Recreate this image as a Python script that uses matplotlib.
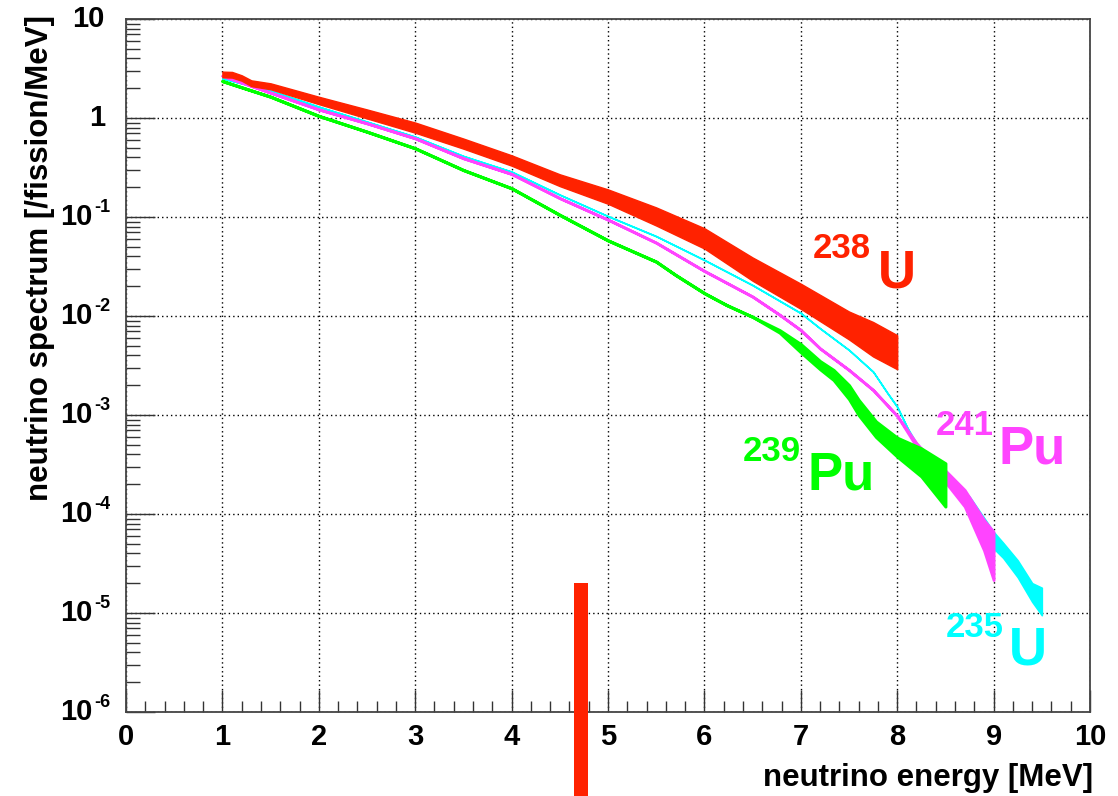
import matplotlib
matplotlib.use("Agg")
import matplotlib.pyplot as plt
import matplotlib.transforms as mtransforms
from matplotlib.ticker import FixedLocator, MultipleLocator, NullFormatter

# ---- data: reactor antineutrino spectra per fission (upper / lower edge of each band) ----
e_u238 = [1.0, 1.1, 1.2, 1.3, 1.5, 2.0, 2.5, 3.0, 3.5, 4.0, 4.5, 5.0, 5.5, 6.0, 6.5, 7.0, 7.5, 7.75, 8.0]
hi_u238 = [2.94, 2.92, 2.70, 2.40, 2.24, 1.64, 1.22, 0.90, 0.62, 0.42, 0.27, 0.19, 0.125, 0.077, 0.039, 0.0212, 0.0111, 0.0087, 0.0064]
lo_u238 = [2.58, 2.56, 2.38, 2.10, 1.95, 1.38, 0.99, 0.71, 0.49, 0.33, 0.205, 0.136, 0.082, 0.048, 0.0227, 0.0118, 0.0058, 0.0039, 0.0029]

e_u235 = [1.0, 1.5, 2.0, 2.5, 3.0, 3.5, 4.0, 4.5, 5.0, 5.5, 6.0, 6.5, 7.0, 7.2, 7.5, 7.75, 7.9, 8.0, 8.1, 8.2,
          8.35, 8.5, 8.75, 9.0, 9.1, 9.25, 9.4, 9.5]
hi_u235 = [2.51, 1.89, 1.30, 0.918, 0.647, 0.413, 0.287, 0.168, 0.102, 0.064, 0.0368, 0.0205, 0.0107, 0.0075, 0.00454,
           0.00274, 0.00166, 0.00121, 0.00076, 5.2e-4, 3.6e-4, 2.6e-4, 1.5e-4, 6.6e-5, 5.1e-5, 3.4e-5, 2.0e-5, 1.8e-5]
lo_u235 = [2.51, 1.89, 1.30, 0.918, 0.647, 0.413, 0.287, 0.168, 0.102, 0.064, 0.0368, 0.0205, 0.0107, 0.0075, 0.00454,
           0.00274, 0.00166, 0.00121, 0.00076, 4.6e-4, 3.1e-4, 2.1e-4, 1.1e-4, 4.5e-5, 3.6e-5, 2.3e-5, 1.3e-5, 9.5e-6]

e_pu241 = [1.0, 1.5, 2.0, 2.5, 3.0, 3.5, 4.0, 4.5, 5.0, 5.5, 6.0, 6.5, 6.78, 7.0, 7.2, 7.5, 7.75, 8.0, 8.2,
           8.35, 8.5, 8.7, 8.9, 9.0]
hi_pu241 = [2.67, 1.80, 1.22, 0.883, 0.623, 0.392, 0.272, 0.155, 0.094, 0.055, 0.0285, 0.0157, 0.0103, 0.0072, 0.0047,
            0.00285, 0.00179, 0.00098, 5.2e-4, 3.6e-4, 2.75e-4, 1.75e-4, 8.7e-5, 6.6e-5]
lo_pu241 = [2.67, 1.80, 1.22, 0.883, 0.623, 0.392, 0.272, 0.155, 0.094, 0.055, 0.0285, 0.0157, 0.0103, 0.0072, 0.0047,
            0.00285, 0.00179, 0.00098, 4.8e-4, 3.1e-4, 2.1e-4, 1.19e-4, 4.3e-5, 2.15e-5]

e_pu239 = [1.0, 1.5, 2.0, 2.5, 3.0, 3.5, 4.0, 4.5, 5.0, 5.5, 5.7, 6.0, 6.23, 6.5, 6.78, 7.0, 7.2, 7.34, 7.5, 7.6,
           7.78, 8.0, 8.25, 8.5]
hi_pu239 = [2.36, 1.64, 1.05, 0.727, 0.494, 0.298, 0.195, 0.105, 0.058, 0.0354, 0.026, 0.017, 0.0129, 0.0098, 0.0072,
            0.0052, 0.0035, 0.00285, 0.0020, 0.00142, 8.6e-4, 5.9e-4, 4.6e-4, 3.25e-4]
lo_pu239 = [2.36, 1.64, 1.05, 0.727, 0.494, 0.298, 0.195, 0.105, 0.058, 0.0354, 0.026, 0.017, 0.0129, 0.0098, 0.0068,
            0.0043, 0.0029, 0.00226, 0.00145, 0.0010, 6.0e-4, 3.8e-4, 2.4e-4, 1.19e-4]

# threshold marker
marker_energy = 4.72
marker_top = 2e-5

x_ticks = [0, 1, 2, 3, 4, 5, 6, 7, 8, 9, 10]
y_ticks = [1e-6, 1e-5, 1e-4, 1e-3, 1e-2, 1e-1, 1, 10]
y_tick_bases = ['10', '10', '10', '10', '10', '10', '1', '10']
y_tick_exps = ['-6', '-5', '-4', '-3', '-2', '-1', '', '']

RED = '#ff2200'
CYAN = '#00ffff'
MAGENTA = '#ff44ff'
GREEN = '#00ff00'

plt.rcParams['font.family'] = ['Liberation Sans', 'DejaVu Sans']
plt.rcParams['font.weight'] = 'bold'

fig = plt.figure(figsize=(11.18, 7.96), dpi=100)
ax = fig.add_axes([126 / 1118, 1 - 712 / 796, 964 / 1118, 693 / 796])

ax.set_yscale('log')
ax.set_xlim(0, 10)
ax.set_ylim(1e-6, 10)

# spectra bands
ax.fill_between(e_u235, lo_u235, hi_u235, color=CYAN, lw=1.2, ec=CYAN, zorder=3)
ax.fill_between(e_pu241, lo_pu241, hi_pu241, color=MAGENTA, lw=2.0, ec=MAGENTA, zorder=4)
ax.fill_between(e_pu239, lo_pu239, hi_pu239, color=GREEN, lw=2.2, ec=GREEN, zorder=5)
ax.fill_between(e_u238, lo_u238, hi_u238, color=RED, lw=1.0, ec=RED, zorder=6)

# vertical marker running off the bottom of the frame
ax.bar(marker_energy, marker_top - 1e-9, bottom=1e-9, width=0.14, color=RED, clip_on=False, zorder=7)

# isotope labels
big = 38
small = 25
ax.text(7.12, 0.0385, '238', color=RED, fontsize=small, fontweight='bold', va='baseline', ha='left')
ax.text(7.80, 0.0196, 'U', color=RED, fontsize=big, fontweight='bold', va='baseline', ha='left')
ax.text(8.40, 6.28e-4, '241', color=MAGENTA, fontsize=small, fontweight='bold', va='baseline', ha='left')
ax.text(9.05, 3.27e-4, 'Pu', color=MAGENTA, fontsize=big, fontweight='bold', va='baseline', ha='left')
ax.text(6.40, 3.43e-4, '239', color=GREEN, fontsize=small, fontweight='bold', va='baseline', ha='left')
ax.text(7.07, 1.75e-4, 'Pu', color=GREEN, fontsize=big, fontweight='bold', va='baseline', ha='left')
ax.text(8.50, 5.73e-6, '235', color=CYAN, fontsize=small, fontweight='bold', va='baseline', ha='left')
ax.text(9.16, 2.99e-6, 'U', color=CYAN, fontsize=big, fontweight='bold', va='baseline', ha='left')

# axes styling
ax.xaxis.set_major_locator(FixedLocator(x_ticks))
ax.xaxis.set_minor_locator(MultipleLocator(0.2))
ax.set_xticklabels([str(v) for v in x_ticks])
ax.yaxis.set_major_locator(FixedLocator(y_ticks))
minor_y = [m * 10.0 ** k for k in range(-6, 1) for m in range(2, 10)]
ax.yaxis.set_minor_locator(FixedLocator(minor_y))
ax.yaxis.set_minor_formatter(NullFormatter())
ax.yaxis.set_major_formatter(NullFormatter())

ax.tick_params(axis='both', which='both', direction='in', top=False, right=False, color='#333333', width=1.0)
ax.tick_params(axis='x', which='major', length=16, labelsize=21, pad=8)
ax.tick_params(axis='x', which='minor', length=8)
ax.tick_params(axis='y', which='major', length=21)
ax.tick_params(axis='y', which='minor', length=10)

# y tick labels: base number with a small raised exponent
ytrans = mtransforms.blended_transform_factory(ax.transAxes, ax.transData)
for val, base, ex in zip(y_ticks, y_tick_bases, y_tick_exps):
    if ex:
        t_base = mtransforms.offset_copy(ytrans, fig=fig, x=-33, y=0, units='dots')
        ax.text(0, val, base, transform=t_base, ha='right', va='center', fontsize=21, fontweight='bold')
        t_exp = mtransforms.offset_copy(ytrans, fig=fig, x=-32, y=1, units='dots')
        ax.text(0, val, ex, transform=t_exp, ha='left', va='bottom', fontsize=13, fontweight='bold')
    else:
        t_base = mtransforms.offset_copy(ytrans, fig=fig, x=-21, y=0, units='dots')
        ax.text(0, val, base, transform=t_base, ha='right', va='center', fontsize=21, fontweight='bold')

for s in ax.spines.values():
    s.set_color('#444444')
    s.set_linewidth(1.3)

ax.set_axisbelow(True)
ax.grid(True, which='major', color='black', linestyle=(0, (1, 2.2)), linewidth=1.0)

fig.text(0.978, 1 - 778 / 796, 'neutrino energy [MeV]', ha='right', va='center', fontsize=22.5, fontweight='bold')
fig.text(40 / 1118, 1 - 15 / 796, 'neutrino spectrum [/fission/MeV]', ha='center', va='top', rotation=90,
         fontsize=22.5, fontweight='bold')

fig.savefig('out.png', dpi=100)
